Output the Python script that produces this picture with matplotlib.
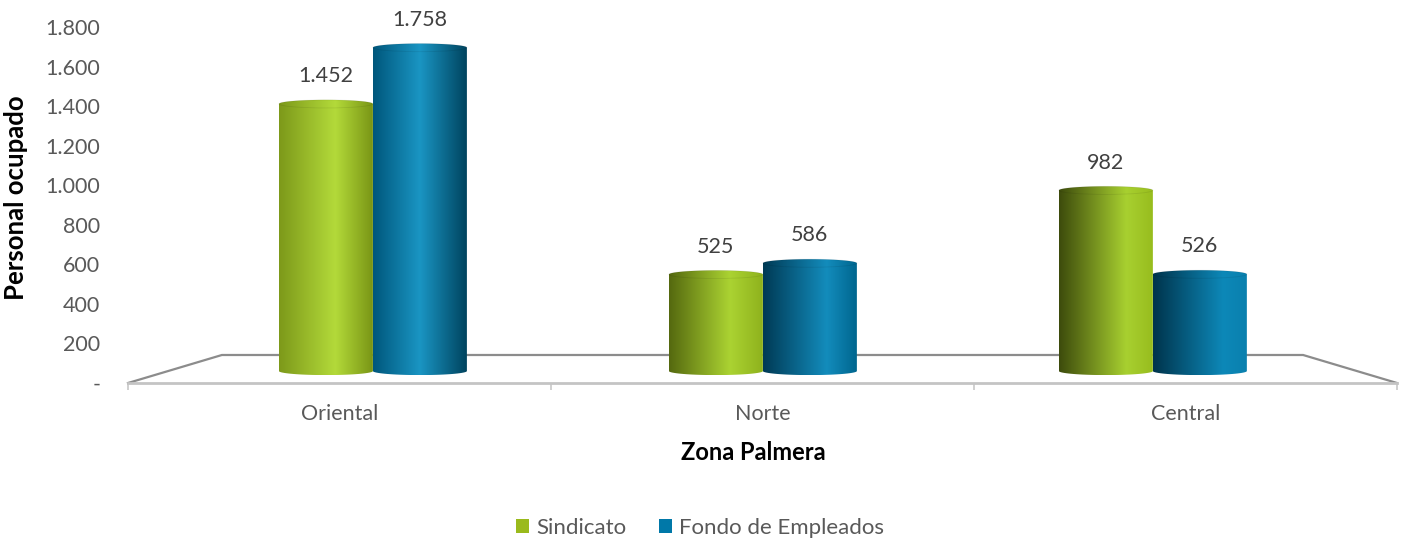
import numpy as np
import matplotlib
matplotlib.use('Agg')
import matplotlib.pyplot as plt
from matplotlib.colors import LinearSegmentedColormap
from matplotlib.patches import PathPatch, Patch, Ellipse
from matplotlib.path import Path
from matplotlib.ticker import FuncFormatter, FixedLocator

# Datos
zonas = ['Oriental', 'Norte', 'Central']
sindicato = [1452, 525, 982]
fondo = [1758, 586, 526]
series_names = ['Sindicato', 'Fondo de Empleados']
yticks = [0, 200, 400, 600, 800, 1000, 1200, 1400, 1600, 1800]

plt.rcParams['font.family'] = ['Lato', 'DejaVu Sans']

GRIS = '#595959'
W, H = 1403, 541


def fmt_miles(v, _=None):
    # separador de miles con punto, cero como guion
    if v == 0:
        return '-'
    return f'{int(v):,}'.replace(',', '.')


# degradados de los cilindros (cambian con la posicion, como en Excel 3D)
stops_verde = [
    [(0, '#7d991a'), (0.6, '#b3da3a'), (1, '#7a9615')],
    [(0, '#55690f'), (0.65, '#abd332'), (1, '#8fb21d')],
    [(0, '#3d4b0c'), (0.72, '#a8d030'), (1, '#98bd1e')],
]
stops_azul = [
    [(0, '#00577c'), (0.5, '#1a95c3'), (1, '#00445f')],
    [(0, '#003a55'), (0.68, '#138cbc'), (1, '#00668f')],
    [(0, '#00344c'), (0.75, '#0d88b8'), (1, '#0a80ae')],
]

fig = plt.figure(figsize=(W / 100, H / 100), dpi=100)
rect = [128 / W, (H - 383) / H, 1269 / W, 356 / H]

# 1. Ejes principales: escala Y, borde frontal del piso y categorias
ax = fig.add_axes(rect)
ax.set_xlim(0, 3)
ax.set_ylim(0, 1800)
ax.set_yticks(yticks)
ax.yaxis.set_major_formatter(FuncFormatter(fmt_miles))
ax.tick_params(axis='y', length=0, pad=20, labelsize=15.5, labelcolor=GRIS)
ax.set_xticks([0.5, 1.5, 2.5])
ax.set_xticklabels(zonas)
ax.xaxis.set_minor_locator(FixedLocator([0, 1, 2, 3]))
ax.tick_params(axis='x', which='major', length=0, pad=15, labelsize=15.5, labelcolor=GRIS)
ax.tick_params(axis='x', which='minor', length=5, width=1.2, color='#c8c8c8')
for s in ['top', 'right', 'left']:
    ax.spines[s].set_visible(False)
ax.spines['bottom'].set_color('#c4c4c4')
ax.spines['bottom'].set_linewidth(2)
ax.patch.set_alpha(0)

# piso en perspectiva
ax.plot([0, 0.222, 2.778, 3], [0, 141.6, 141.6, 0], color='#8c8c8c', lw=1.6,
        clip_on=False, solid_joinstyle='miter')

# 2. Ejes de las barras (escala propia por la perspectiva)
bx = fig.add_axes(rect)
bx.set_xlim(-0.628, 2.626)
bx.set_ylim(-65, 1870)
bx.set_axis_off()
bx.patch.set_alpha(0)

ancho = 0.241
ry = 22
t_top = np.linspace(np.pi, 0, 40)
t_bot = np.linspace(0, -np.pi, 40)


def cilindro(xc, v, stops, z):
    rx = ancho / 2
    x0, x1 = xc - rx, xc + rx
    verts = [(x0, 0), (x0, v)]
    verts += list(zip(xc + rx * np.cos(t_top), v + ry * np.sin(t_top)))
    verts += [(x1, v), (x1, 0)]
    verts += list(zip(xc + rx * np.cos(t_bot), ry * np.sin(t_bot)))
    verts.append((x0, 0))
    codes = [Path.MOVETO] + [Path.LINETO] * (len(verts) - 2) + [Path.CLOSEPOLY]
    patch = PathPatch(Path(verts, codes), facecolor='none', edgecolor='none', zorder=z)
    bx.add_patch(patch)
    cmap = LinearSegmentedColormap.from_list('c', stops)
    grad = np.linspace(0, 1, 200).reshape(1, -1)
    im = bx.imshow(grad, cmap=cmap, extent=(x0, x1, -ry, v + ry), aspect='auto',
                   origin='lower', interpolation='bicubic', zorder=z)
    im.set_clip_path(patch)
    # cara superior, apenas marcada
    top = Ellipse((xc, v), ancho, 2 * ry, facecolor='none', edgecolor=(0, 0, 0, 0.08),
                  lw=0.6, zorder=z + 0.1)
    bx.add_patch(top)


for i in range(len(zonas)):
    z_az = 3 if i < 2 else 2
    z_ve = 2 if i < 2 else 3
    cilindro(i - ancho / 2, sindicato[i], stops_verde[i], z_ve)
    cilindro(i + ancho / 2, fondo[i], stops_azul[i], z_az)
    bx.annotate(fmt_miles(sindicato[i]), (i - ancho / 2, sindicato[i]), xytext=(0, 20),
                textcoords='offset points', ha='center', va='center', fontsize=15.5,
                color='#404040')
    bx.annotate(fmt_miles(fondo[i]), (i + ancho / 2, fondo[i]), xytext=(0, 20),
                textcoords='offset points', ha='center', va='center', fontsize=15.5,
                color='#404040')

# 3. Titulos de ejes
fig.text(753 / W, 1 - 452 / H, 'Zona Palmera', ha='center', va='center',
         fontsize=17, fontweight='bold', color='black')
fig.text(16 / W, 1 - 198 / H, 'Personal ocupado', ha='center', va='center',
         rotation=90, fontsize=18.5, fontweight='bold', color='black')

# 4. Leyenda
handles = [Patch(facecolor='#9aba1c', label=series_names[0]),
           Patch(facecolor='#0078a8', label=series_names[1])]
fig.legend(handles=handles, loc='center', bbox_to_anchor=(700 / W, 1 - 528 / H),
           ncol=2, frameon=False, fontsize=16, handlelength=0.6, handleheight=0.6,
           handletextpad=0.32, columnspacing=1.45, labelcolor=GRIS)

fig.savefig('out.png', dpi=100)
plt.close(fig)
